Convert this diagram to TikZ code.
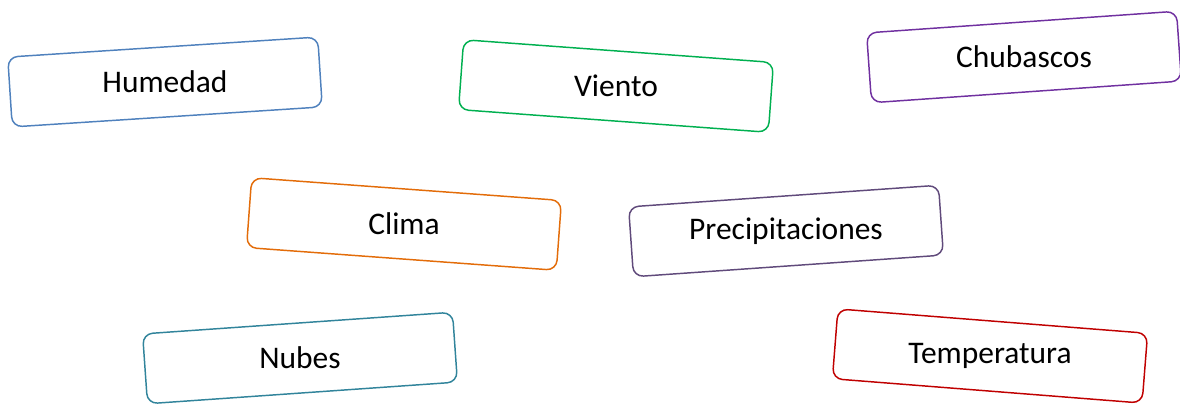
\documentclass[tikz,border=0pt]{standalone}
\usepackage{fontspec}
\setmainfont{Carlito}
\definecolor{humblue}{RGB}{79, 129, 189}
\definecolor{windgreen}{RGB}{0, 176, 80}
\definecolor{showpurple}{RGB}{112, 48, 160}
\definecolor{climorange}{RGB}{227, 108, 9}
\definecolor{precviolet}{RGB}{96, 74, 123}
\definecolor{cloudteal}{RGB}{49, 132, 155}
\definecolor{tempred}{RGB}{192, 0, 0}
\usetikzlibrary{positioning}

\begin{document}
\begin{tikzpicture}[x=0.75pt, y=-0.75pt,
  wordbox/.style={draw=#1, line width=1.1pt, rounded corners=7.5pt, fill=white,
    minimum width=233pt, minimum height=52.5pt, inner sep=0pt},
  wordlbl/.style={font=\fontsize{23.6}{28}\selectfont, text=black, inner sep=0pt}]
  \useasboundingbox (0, 0) rectangle (1180, 404);

  % Top row
  \node[wordbox=humblue, rotate=3.7] (hum) at (165, 82) {};
  \node[wordlbl] (humtxt) at (hum.center) {Humedad};
  \node[wordbox=windgreen, rotate=-4.2] (wind) at (616, 86) {};
  \node[wordlbl] (windtxt) at (wind.center) {Viento};
  \node[wordbox=showpurple, rotate=4] (show) at (1024, 57) {};
  \node[wordlbl] (showtxt) at (show.center) {Chubascos};

  % Middle row
  \node[wordbox=climorange, rotate=-4.2] (clim) at (404, 224) {};
  \node[wordlbl] (climtxt) at (clim.center) {Clima};
  \node[wordbox=precviolet, rotate=4] (prec) at (786, 231) {};
  \node[wordlbl] (prectxt) at (prec.center) {Precipitaciones};

  % Bottom row
  \node[wordbox=cloudteal, rotate=4] (cloud) at (300, 358) {};
  \node[wordlbl] (cloudtxt) at (cloud.center) {Nubes};
  \node[wordbox=tempred, rotate=-4.5] (temp) at (990, 356) {};
  \node[wordlbl] (temptxt) at (temp.center) {Temperatura};
\end{tikzpicture}
\end{document}
